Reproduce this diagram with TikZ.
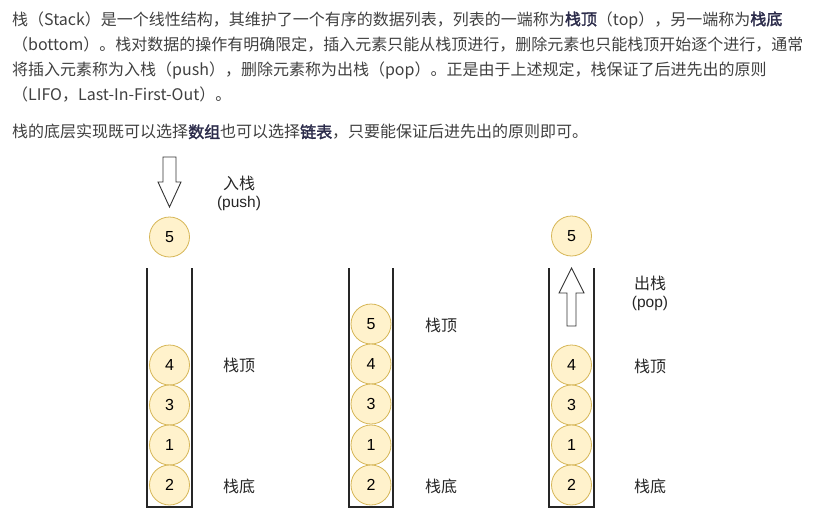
\documentclass[tikz,border=0pt]{standalone}
\usepackage{fontspec}
\setmainfont{Liberation Sans}
\newfontfamily\cjk[AutoFakeBold=2]{Noto Sans CJK SC}
\definecolor{txt}{HTML}{404040}
\definecolor{bld}{HTML}{2B2B4A}
\definecolor{fillY}{HTML}{FFF2CC}
\definecolor{drawY}{HTML}{D6B656}
\newcommand{\kw}[1]{{\bfseries\color{bld}#1}}
\begin{document}
\begin{tikzpicture}[x=1pt,y=-1pt,
  para/.style={anchor=west,inner sep=0pt,font=\cjk\fontsize{16}{19}\selectfont,text=txt},
  ball/.style={circle,draw=drawY,fill=fillY,minimum size=40pt,inner sep=0pt,font=\fontsize{16}{18}\selectfont,line width=0.8pt},
  lbl/.style={font=\cjk\fontsize{16}{18}\selectfont,text=black!85,inner sep=0pt},
  lat/.style={font=\fontsize{15.5}{18}\selectfont,text=black!85,inner sep=0pt},
  wall/.style={line width=1.8pt,draw=black!85},
  blockarrow/.style={draw=black!80,fill=white,line width=0.9pt,line join=miter}]
\useasboundingbox (0,0) rectangle (826,519);

% paragraph
\node[para] (p1) at (12,20) {栈（Stack）是一个线性结构，其维护了一个有序的数据列表，列表的一端称为\kw{栈顶}（top），另一端称为\kw{栈底}};
\node[para] (p2) at (12,45) {（bottom）。栈对数据的操作有明确限定，插入元素只能从栈顶进行，删除元素也只能栈顶开始逐个进行，通常};
\node[para] (p3) at (12,70) {将插入元素称为入栈（push），删除元素称为出栈（pop）。正是由于上述规定，栈保证了后进先出的原则};
\node[para] (p4) at (12,95) {（LIFO，Last-In-First-Out）。};
\node[para] (p5) at (12,132) {栈的底层实现既可以选择\kw{数组}也可以选择\kw{链表}，只要能保证后进先出的原则即可。};

% stack 1 (push)
\draw[wall] (147,268) -- (147,507) -- (192,507) -- (192,268);
\draw[blockarrow] (163,157) -- (176,157) -- (176,182) -- (181,182) -- (169.5,207) -- (158,182) -- (163,182) -- cycle;
\node[ball] (a5) at (169.5,237) {5};
\node[ball] (a4) at (169.5,365) {4};
\node[ball] (a3) at (169.5,405) {3};
\node[ball] (a1) at (169.5,445) {1};
\node[ball] (a2) at (169.5,485) {2};
\node[lbl] (l1push) at (239,183) {入栈};
\node[lat] (l1pushe) at (239,203) {(push)};
\node[lbl] (l1top) at (239,365) {栈顶};
\node[lbl] (l1bot) at (239,486) {栈底};

% stack 2
\draw[wall] (349,268) -- (349,507) -- (393,507) -- (393,268);
\node[ball] (b5) at (371,324) {5};
\node[ball] (b4) at (371,364) {4};
\node[ball] (b3) at (371,404) {3};
\node[ball] (b1) at (371,445) {1};
\node[ball] (b2) at (371,485) {2};
\node[lbl] (l2top) at (441,325) {栈顶};
\node[lbl] (l2bot) at (441,486) {栈底};

% stack 3 (pop)
\draw[wall] (549,268) -- (549,507) -- (594,507) -- (594,268);
\node[ball] (c5) at (571.5,236) {5};
\draw[blockarrow] (567,326) -- (576,326) -- (576,293) -- (584,293) -- (571.5,268) -- (559,293) -- (567,293) -- cycle;
\node[ball] (c4) at (571.5,365) {4};
\node[ball] (c3) at (571.5,405) {3};
\node[ball] (c1) at (571.5,445) {1};
\node[ball] (c2) at (571.5,485) {2};
\node[lbl] (l3pop) at (650,283) {出栈};
\node[lat] (l3pope) at (650,303) {(pop)};
\node[lbl] (l3top) at (650,366) {栈顶};
\node[lbl] (l3bot) at (650,486) {栈底};
\end{tikzpicture}
\end{document}
